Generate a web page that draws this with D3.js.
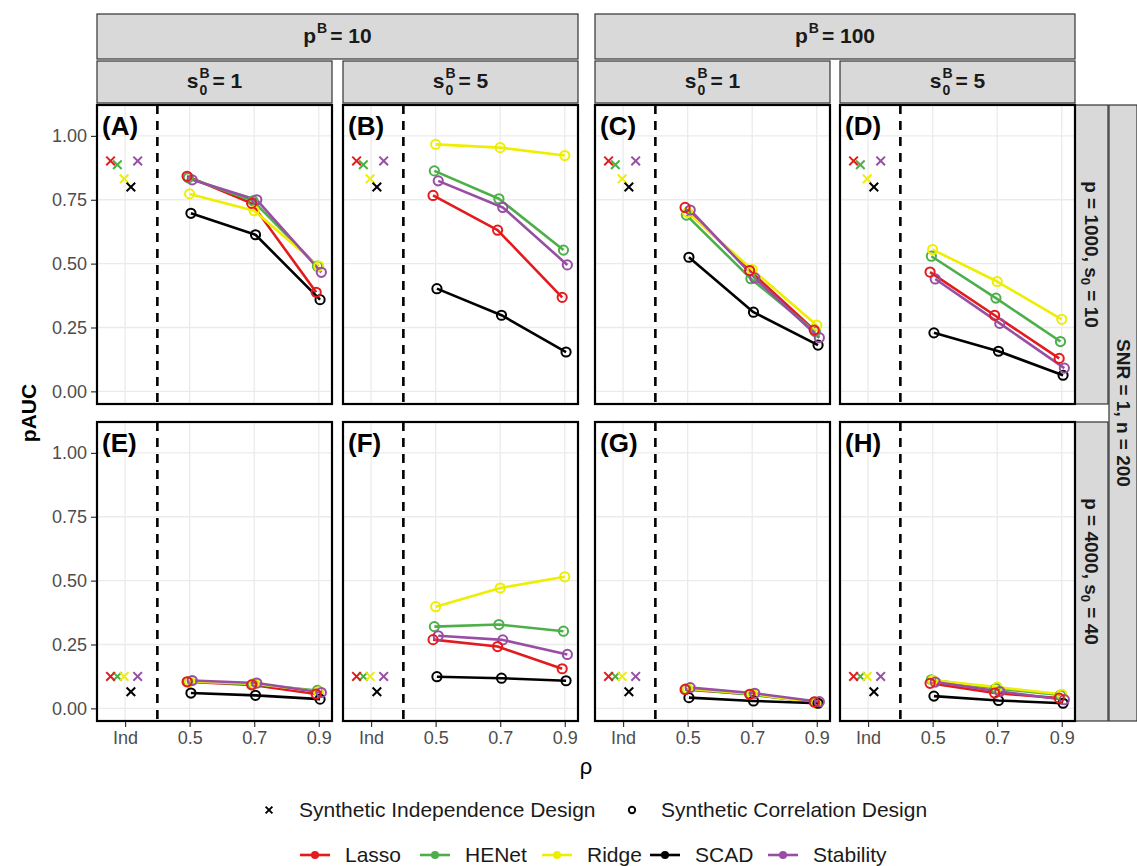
<!DOCTYPE html>
<html>
<head>
<meta charset="utf-8">
<script src="https://cdn.jsdelivr.net/npm/d3@7"></script>
<style>
  body { margin: 0; background: #fff; }
  svg { display: block; font-family: "Liberation Sans", Arial, Helvetica, sans-serif; }
</style>
</head>
<body>
<svg id="chart" width="1137" height="866"></svg>
<script>
// Methods and colours
const methods = ["Lasso", "HENet", "Ridge", "SCAD", "Stability"];
const methodColors = ["#E41A1C", "#4DAF4A", "#EEEE00", "#000000", "#984EA3"];

// x positions: "Ind" sits left of the dashed separator, then the rho levels
const indLevel = 0.3;
const rhoLevels = [0.5, 0.7, 0.9];
const xTickValues = [0.3, 0.5, 0.7, 0.9];
const xTickLabels = ["Ind", "0.5", "0.7", "0.9"];
const yTickValues = [0, 0.25, 0.5, 0.75, 1];
const yTickLabels = ["0.00", "0.25", "0.50", "0.75", "1.00"];

// Synthetic independence design pAUC (Lasso, HENet, Ridge, SCAD, Stability)
const indepRow1 = [0.902, 0.887, 0.832, 0.800, 0.902];
const indepRow2 = [0.125, 0.125, 0.125, 0.065, 0.125];

// Synthetic correlation design pAUC at rho = 0.5, 0.7, 0.9 (rows follow methods)
const corrA = [[0.842, 0.736, 0.388], [0.836, 0.746, 0.490], [0.773, 0.707, 0.490], [0.697, 0.613, 0.359], [0.828, 0.750, 0.466]];
const corrB = [[0.767, 0.631, 0.368], [0.863, 0.754, 0.553], [0.967, 0.954, 0.923], [0.402, 0.298, 0.154], [0.824, 0.720, 0.495]];
const corrC = [[0.720, 0.473, 0.240], [0.690, 0.441, 0.233], [0.700, 0.477, 0.259], [0.525, 0.310, 0.181], [0.710, 0.444, 0.210]];
const corrD = [[0.467, 0.298, 0.129], [0.529, 0.365, 0.195], [0.555, 0.430, 0.282], [0.229, 0.157, 0.063], [0.440, 0.266, 0.091]];
const corrE = [[0.104, 0.092, 0.056], [0.104, 0.095, 0.070], [0.106, 0.097, 0.065], [0.060, 0.051, 0.036], [0.109, 0.099, 0.062]];
const corrF = [[0.269, 0.242, 0.155], [0.320, 0.328, 0.302], [0.398, 0.471, 0.515], [0.124, 0.118, 0.108], [0.284, 0.268, 0.211]];
const corrG = [[0.074, 0.055, 0.025], [0.076, 0.054, 0.024], [0.077, 0.057, 0.020], [0.042, 0.029, 0.020], [0.081, 0.059, 0.026]];
const corrH = [[0.098, 0.060, 0.040], [0.112, 0.078, 0.052], [0.110, 0.083, 0.055], [0.048, 0.031, 0.020], [0.103, 0.066, 0.034]];

// Facet labels
const pbLabels = ["10", "100"];
const s0bLabels = ["1", "5", "1", "5"];
const panelTags = [["(A)", "(B)", "(C)", "(D)"], ["(E)", "(F)", "(G)", "(H)"]];
const panelData = [[corrA, corrB, corrC, corrD], [corrE, corrF, corrG, corrH]];
const indepData = [indepRow1, indepRow2];
const rowLabels = [["1000", "10"], ["4000", "40"]];

// ---- layout ----
const colLeft = [97, 343, 595, 840];
const panelW = 235;
const rowTop = [105, 422];
const panelH = 299;
const xDomain = [0.213, 0.941];
const yDomain = [-0.0495, 1.121];
const crossDodge = [-0.045, -0.024, -0.003, 0.018, 0.039];
const circleDodge = [-0.008, -0.004, 0, 0.004, 0.008];

const svg = d3.select("#chart");
const stripFill = "#D9D9D9", stripStroke = "#333333";
const stripFont = "'Liberation Sans Narrow', 'Liberation Sans', Arial, sans-serif";

// strip label "p^B = 10" or "s_0^B = 1", centred at (cx, cy)
function stripLabel(g, cx, cy, base, hasSub, value) {
  const t = g.append("g").attr("font-family", stripFont).attr("font-weight", "bold").attr("fill", "#1a1a1a");
  const fs = 21;
  const b = t.append("text").attr("font-size", fs).text(base);
  const bw = b.node().getComputedTextLength();
  const sup = t.append("text").attr("font-size", 14).attr("x", bw + 1).attr("y", -10).text("B");
  let scriptW = sup.node().getComputedTextLength();
  if (hasSub) {
    const sub = t.append("text").attr("font-size", 14).attr("x", bw + 1).attr("y", 7).text("0");
    scriptW = Math.max(scriptW, sub.node().getComputedTextLength());
  }
  const rest = t.append("text").attr("font-size", fs).attr("x", bw + scriptW + 4).text("= " + value);
  const total = bw + scriptW + 4 + rest.node().getComputedTextLength();
  t.attr("transform", `translate(${cx - total / 2},${cy + 7})`);
}

// top strips
[0, 1].forEach(i => {
  const x0 = colLeft[i * 2], x1 = colLeft[i * 2 + 1] + panelW;
  svg.append("rect").attr("x", x0).attr("y", 14).attr("width", x1 - x0).attr("height", 45)
    .attr("fill", stripFill).attr("stroke", stripStroke).attr("stroke-width", 1.2);
  stripLabel(svg, (x0 + x1) / 2, 36, "p", false, pbLabels[i]);
});
colLeft.forEach((x0, j) => {
  svg.append("rect").attr("x", x0).attr("y", 61).attr("width", panelW).attr("height", 42)
    .attr("fill", stripFill).attr("stroke", stripStroke).attr("stroke-width", 1.2);
  stripLabel(svg, x0 + panelW / 2, 81, "s", true, s0bLabels[j]);
});

// right strips
rowTop.forEach((y0, r) => {
  svg.append("rect").attr("x", 1075).attr("y", y0).attr("width", 33).attr("height", panelH)
    .attr("fill", stripFill).attr("stroke", stripStroke).attr("stroke-width", 1.2);
  const t = svg.append("text").attr("font-weight", "bold").attr("font-size", 19).attr("fill", "#1a1a1a")
    .attr("text-anchor", "middle")
    .attr("transform", `translate(${1091.5 - 6.5},${y0 + panelH / 2}) rotate(90)`);
  t.append("tspan").text(`p = ${rowLabels[r][0]}, s`);
  t.append("tspan").attr("font-size", 13).attr("dy", 4).text("0");
  t.append("tspan").attr("dy", -4).text(` = ${rowLabels[r][1]}`);
});
svg.append("rect").attr("x", 1109).attr("y", rowTop[0]).attr("width", 28).attr("height", rowTop[1] + panelH - rowTop[0])
  .attr("fill", stripFill).attr("stroke", stripStroke).attr("stroke-width", 1.2);
svg.append("text").attr("font-weight", "bold").attr("font-size", 19).attr("fill", "#1a1a1a")
  .attr("text-anchor", "middle")
  .attr("transform", `translate(${1123 - 6.5},${(rowTop[0] + rowTop[1] + panelH) / 2}) rotate(90)`)
  .text("SNR = 1, n = 200");

// cross mark path
function crossPath(cx, cy, s) {
  return `M${cx - s},${cy - s}L${cx + s},${cy + s}M${cx - s},${cy + s}L${cx + s},${cy - s}`;
}

// panels
rowTop.forEach((y0, r) => {
  const y = d3.scaleLinear().domain(yDomain).range([y0 + panelH, y0]);
  colLeft.forEach((x0, c) => {
    const x = d3.scaleLinear().domain(xDomain).range([x0, x0 + panelW]);
    const g = svg.append("g");
    g.append("rect").attr("x", x0).attr("y", y0).attr("width", panelW).attr("height", panelH).attr("fill", "#fff");
    // grid
    g.selectAll(".gx").data(xTickValues).join("line")
      .attr("x1", d => x(d)).attr("x2", d => x(d)).attr("y1", y0).attr("y2", y0 + panelH)
      .attr("stroke", "#EBEBEB").attr("stroke-width", 1.3);
    g.selectAll(".gy").data(yTickValues).join("line")
      .attr("x1", x0).attr("x2", x0 + panelW).attr("y1", d => y(d)).attr("y2", d => y(d))
      .attr("stroke", "#EBEBEB").attr("stroke-width", 1.3);
    // separator between independence and correlation designs
    g.append("line").attr("x1", x(0.4)).attr("x2", x(0.4)).attr("y1", y0).attr("y2", y0 + panelH)
      .attr("stroke", "#000").attr("stroke-width", 2.6).attr("stroke-dasharray", "9,7");

    const corr = panelData[r][c];
    const indep = indepData[r];
    // lines
    const line = d3.line().x(d => x(d[0])).y(d => y(d[1]));
    methods.forEach((m, k) => {
      const pts = rhoLevels.map((rho, i) => [rho + circleDodge[k], corr[k][i]]);
      g.append("path").attr("d", line(pts)).attr("fill", "none")
        .attr("stroke", methodColors[k]).attr("stroke-width", 2.6).attr("stroke-linejoin", "round");
    });
    // points
    const drawOrder = [1, 2, 3, 4, 0];
    drawOrder.forEach(k => {
      g.selectAll(null).data(rhoLevels).join("circle")
        .attr("cx", (rho) => x(rho + circleDodge[k]))
        .attr("cy", (rho, i) => y(corr[k][i]))
        .attr("r", 4.6).attr("fill", "none")
        .attr("stroke", methodColors[k]).attr("stroke-width", 2);
      g.append("path").attr("d", crossPath(x(indLevel + crossDodge[k]), y(indep[k]), 4.3))
        .attr("stroke", methodColors[k]).attr("stroke-width", 2).attr("fill", "none");
    });
    // border
    g.append("rect").attr("x", x0).attr("y", y0).attr("width", panelW).attr("height", panelH)
      .attr("fill", "none").attr("stroke", "#000").attr("stroke-width", 2.2);
    // tag
    g.append("text").attr("x", x0 + 5).attr("y", y0 + 30).attr("font-size", 26).attr("font-weight", "bold")
      .attr("fill", "#000").text(panelTags[r][c]);

    // y axis on left column
    if (c === 0) {
      const ax = svg.append("g").attr("transform", `translate(${x0 - 1},0)`)
        .call(d3.axisLeft(y).tickValues(yTickValues).tickFormat((d, i) => yTickLabels[i]).tickSize(5).tickPadding(4));
      ax.select(".domain").remove();
      ax.selectAll(".tick line").attr("stroke", "#333").attr("stroke-width", 1.2);
      ax.selectAll(".tick text").attr("font-size", 18).attr("fill", "#4D4D4D")
        .attr("font-family", "'Liberation Sans', Arial, sans-serif");
    }
    // x axis on bottom row
    if (r === 1) {
      const ax = svg.append("g").attr("transform", `translate(0,${y0 + panelH + 1})`)
        .call(d3.axisBottom(x).tickValues(xTickValues).tickFormat((d, i) => xTickLabels[i]).tickSize(5).tickPadding(4));
      ax.select(".domain").remove();
      ax.selectAll(".tick line").attr("stroke", "#333").attr("stroke-width", 1.2);
      ax.selectAll(".tick text").attr("font-size", 18).attr("fill", "#4D4D4D")
        .attr("font-family", "'Liberation Sans', Arial, sans-serif");
    }
  });
});

// axis titles
svg.append("text").attr("text-anchor", "middle").attr("font-size", 21).attr("font-weight", "bold")
  .attr("transform", `translate(36,${(rowTop[0] + rowTop[1] + panelH) / 2}) rotate(-90)`).text("pAUC");
svg.append("text").attr("text-anchor", "middle").attr("font-size", 22)
  .attr("x", (colLeft[0] + colLeft[3] + panelW) / 2).attr("y", 774).text("ρ");

// legend: design
const lg1 = svg.append("g").attr("font-size", 21).attr("fill", "#1a1a1a");
lg1.append("path").attr("d", crossPath(269, 810, 3.4)).attr("stroke", "#000").attr("stroke-width", 1.9);
lg1.append("text").attr("x", 299).attr("y", 817).text("Synthetic Independence Design");
lg1.append("circle").attr("cx", 632).attr("cy", 810).attr("r", 3.2).attr("fill", "none")
  .attr("stroke", "#000").attr("stroke-width", 1.9);
lg1.append("text").attr("x", 661).attr("y", 817).text("Synthetic Correlation Design");

// legend: methods
const keyX = [300, 420, 542, 650, 768];
methods.forEach((m, k) => {
  const g = svg.append("g");
  g.append("line").attr("x1", keyX[k]).attr("x2", keyX[k] + 30).attr("y1", 855).attr("y2", 855)
    .attr("stroke", methodColors[k]).attr("stroke-width", 2.6);
  g.append("circle").attr("cx", keyX[k] + 15).attr("cy", 855).attr("r", 4).attr("fill", methodColors[k]);
  g.append("text").attr("x", keyX[k] + 45).attr("y", 862).attr("font-size", 21).attr("fill", "#1a1a1a").text(m);
});
</script>
</body>
</html>
